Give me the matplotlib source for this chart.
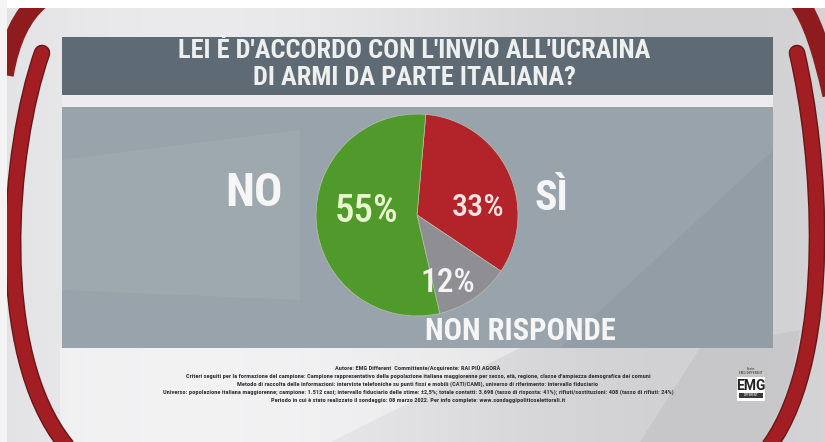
import numpy as np
import matplotlib
matplotlib.use('Agg')
import matplotlib.pyplot as plt
from matplotlib.path import Path
from matplotlib.patches import PathPatch, Rectangle, Polygon

title_lines = ["LEI È D'ACCORDO CON L'INVIO ALL'UCRAINA", "DI ARMI DA PARTE ITALIANA?"]
answers = ['SÌ', 'NON RISPONDE', 'NO']
shares = [33, 12, 55]
slice_colors = ['#b3232a', '#8f8e92', '#4f9a2b']
pct_colors = ['#f7e2e2', '#f4f4f4', '#eaf6cf']

note_lines = [
    'Autore: EMG Different  Committente/Acquirente: RAI PIÙ AGORÀ',
    'Criteri seguiti per la formazione del campione: Campione rappresentativo della popolazione italiana maggiorenne per sesso, età, regione, classe d\'ampiezza demografica dei comuni',
    'Metodo di raccolta delle informazioni: interviste telefoniche su punti fissi e mobili (CATI/CAMI), universo di riferimento: intervallo fiduciario',
    'Universo: popolazione italiana maggiorenne; campione: 1.512 casi; intervallo fiduciario delle stime: ±2,5%; totale contatti: 3.698 (tasso di risposta: 41%); rifiuti/sostituzioni: 408 (tasso di rifiuti: 24%)',
    'Periodo in cui è stato realizzato il sondaggio: 08 marzo 2022. Per info complete: www.sondaggipoliticoelettorali.it',
]

cond = ['Roboto Condensed', 'DejaVu Sans']
W, H = 825, 442

fig = plt.figure(figsize=(W / 100, H / 100), dpi=100)
bg = fig.add_axes([0, 0, 1, 1])
bg.set_xlim(0, W)
bg.set_ylim(H, 0)
bg.axis('off')

# studio backdrop: soft grey gradient
grad = np.linspace(0, 1, W)
shade = 0.87 + 0.05 * np.sin(grad * np.pi * 1.6 + 0.4)
img = np.tile(shade, (H, 1))
bg.imshow(np.dstack([img, img, img * 1.01]).clip(0, 1), extent=(0, W, H, 0), aspect='auto', zorder=0)
bg.add_patch(Polygon([(60, 442), (330, 442), (520, 348), (60, 348)], closed=True,
                     facecolor='white', alpha=0.4, lw=0, zorder=1))
bg.add_patch(Polygon([(640, 442), (780, 442), (800, 330), (700, 348)], closed=True,
                     facecolor='#b9b9bd', alpha=0.4, lw=0, zorder=1))
bg.add_patch(Rectangle((62, 95), 711, 12, facecolor='#ececee', lw=0, zorder=1))

# white frame of the screen grab
bg.add_patch(Rectangle((0, 0), W, 8, facecolor='white', lw=0, zorder=6))
bg.add_patch(Rectangle((0, 0), 7, H, facecolor='#f4f4f4', lw=0, zorder=6))


def bezier(ax, pts, lw, color, z, cap='round'):
    codes = [Path.MOVETO, Path.CURVE4, Path.CURVE4, Path.CURVE4]
    ax.add_patch(PathPatch(Path(pts, codes), facecolor='none', edgecolor=color, lw=lw,
                           capstyle=cap, zorder=z))


# red rings of the set
left_ring = [(42, 53), (8, 150), (-9, 352), (66, 445)]
right_ring = [(797, 53), (820, 150), (836, 352), (770, 445)]
for ring in (left_ring, right_ring):
    bezier(bg, ring, 12.0, '#6a1719', 2)
    bezier(bg, ring, 10.0, '#a31e23', 3)
bezier(bg, [(40, 0), (22, 15), (10, 40), (4, 75)], 14, '#8e1c1e', 2, cap='butt')
bezier(bg, [(798, 0), (812, 20), (822, 50), (832, 95)], 14, '#8e1c1e', 2, cap='butt')

# title band
bg.add_patch(Rectangle((62, 37), 711, 58, facecolor='#5f6b74', lw=0, zorder=4))
for i, line in enumerate(title_lines):
    bg.text(414, 51 + i * 27, line, ha='center', va='center', color='#eef0f0',
            fontsize=19, family=cond, fontweight='bold', zorder=5)

# result panel
bg.add_patch(Rectangle((62, 107), 711, 241, facecolor='#99a3ab', lw=0, zorder=4))
bg.add_patch(Polygon([(62, 160), (300, 130), (300, 300), (62, 290)], closed=True,
                     facecolor='white', alpha=0.06, lw=0, zorder=4))
bg.add_patch(Polygon([(560, 348), (773, 150), (773, 348)], closed=True,
                     facecolor='#6f7880', alpha=0.12, lw=0, zorder=4))

# pie
pie_cx, pie_cy, pie_r = 417, 215, 101
pax = fig.add_axes([(pie_cx - pie_r) / W, (H - pie_cy - pie_r) / H, 2 * pie_r / W, 2 * pie_r / H])
pax.pie(shares, colors=slice_colors, startangle=85, counterclock=False, radius=1,
        wedgeprops=dict(linewidth=0.5, edgecolor='#b8c0b0'))
pax.set_xlim(-1, 1)
pax.set_ylim(-1, 1)
pax.axis('off')
pax.set_zorder(5)

txt = fig.add_axes([0, 0, 1, 1])
txt.set_xlim(0, W)
txt.set_ylim(H, 0)
txt.axis('off')
txt.set_zorder(6)

pct_pos = [(478, 208), (448, 283), (367, 212)]
pct_size = [23, 24, 28]
for v, (x, y), c, s in zip(shares, pct_pos, pct_colors, pct_size):
    txt.text(x, y, f'{v}%', ha='center', va='center', color=c, fontsize=s, family=cond,
             fontweight='medium')

ans_pos = [(551, 199), (520, 331), (254, 193)]
ans_size = [30, 22, 34]
for a, (x, y), s in zip(answers, ans_pos, ans_size):
    txt.text(x, y, a, ha='center', va='center', color='#f6f6f6', fontsize=s,
             family=cond, fontweight='bold')

# methodology note
for i, line in enumerate(note_lines):
    txt.text(418, 368 + i * 8.2, line, ha='center', va='center', color='#333333',
             fontsize=4.6, family=cond, fontweight='bold')

# pollster mark
txt.text(751, 369, 'Fonte:', ha='center', va='center', fontsize=2.6, color='#333333', family=cond)
txt.text(751, 373.5, 'EMG DIFFERENT', ha='center', va='center', fontsize=2.6, color='#333333', family=cond)
txt.add_patch(Rectangle((737, 377), 28, 24, facecolor='white', lw=0))
txt.text(751, 386, 'EMG', ha='center', va='center', fontsize=10, fontweight='bold',
         color='#222222', family=['Roboto', 'DejaVu Sans'])
txt.add_patch(Rectangle((739, 393), 24, 5, facecolor='#3a3a3a', lw=0))
txt.text(751, 395.5, 'DIFFERENT', ha='center', va='center', fontsize=2.4, color='white', family=cond)

fig.savefig('out.png', dpi=100)
